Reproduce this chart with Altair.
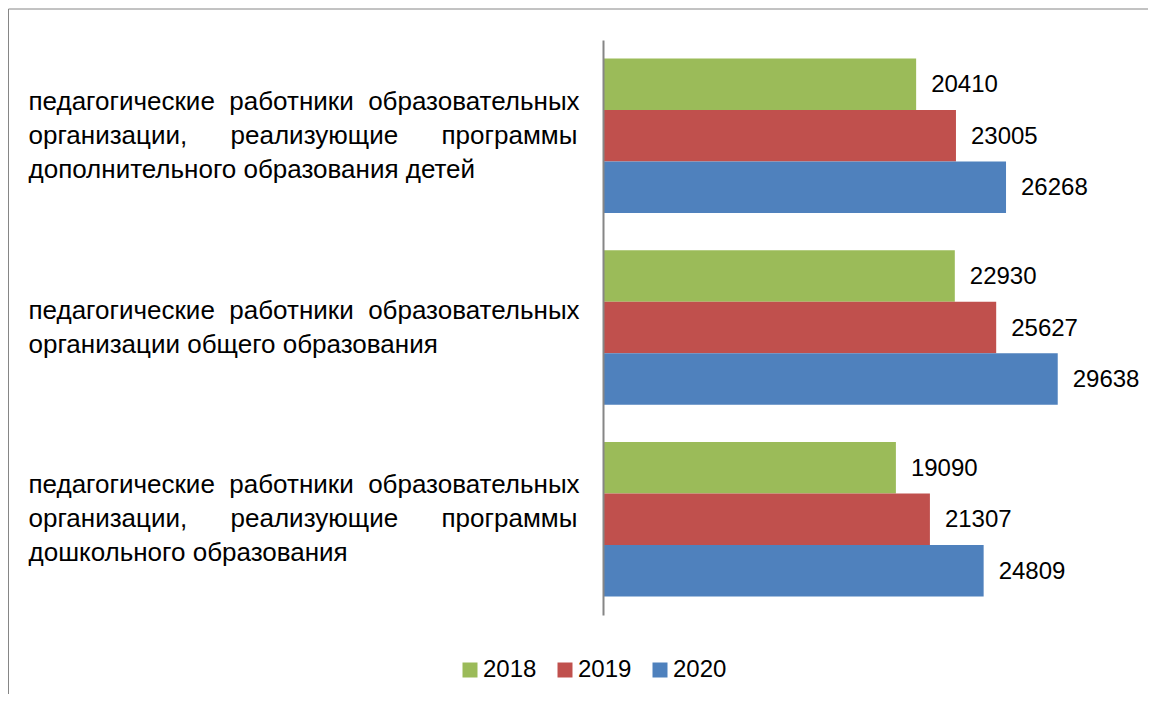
import json
import altair as alt
import pandas as pd

categories = [
    "педагогические работники образовательных организации, реализующие программы дополнительного образования детей",
    "педагогические работники образовательных организации общего образования",
    "педагогические работники образовательных организации, реализующие программы дошкольного образования",
]
NB = "\u00a0"
# wrapped, justified display lines of each category label
label_lines = [
    ["педагогические " + NB + "работники " + NB + "образовательных",
     "организации, " + NB * 5 + "реализующие " + NB * 5 + "программы",
     "дополнительного образования детей"],
    ["педагогические " + NB + "работники " + NB + "образовательных",
     "организации общего образования"],
    ["педагогические " + NB + "работники " + NB + "образовательных",
     "организации, " + NB * 5 + "реализующие " + NB * 5 + "программы",
     "дошкольного образования"],
]
years = ["2018", "2019", "2020"]
values_2018 = [20410, 22930, 19090]
values_2019 = [23005, 25627, 21307]
values_2020 = [26268, 29638, 24809]
colors = ["#9BBB59", "#C0504D", "#4F81BD"]

rows = []
for i, c in enumerate(categories):
    for y, vals in zip(years, [values_2018, values_2019, values_2020]):
        rows.append({"category": c, "year": y, "value": vals[i]})
df = pd.DataFrame(rows)

def js(v):
    return json.dumps(v, ensure_ascii=False)

label_expr = js(label_lines[-1])
for c, lines in reversed(list(zip(categories[:-1], label_lines[:-1]))):
    label_expr = f"datum.value == {js(c)} ? {js(lines)} : ({label_expr})"

LH = 34
two_line = [c for c, l in zip(categories, label_lines) if len(l) == 2]
offset_test = " || ".join(f"datum.value == {js(c)}" for c in two_line)

FONT = "Liberation Sans"

base = alt.Chart(df).encode(
    y=alt.Y(
        "category:N",
        sort=categories,
        scale=alt.Scale(paddingInner=0.194, paddingOuter=0.097),
        axis=alt.Axis(
            title=None,
            ticks=False,
            domainColor="#868686",
            domainWidth=2,
            zindex=1,
            labelAlign="left",
            labelBaseline="middle",
            labelPadding=575,
            labelLimit=0,
            labelFontSize=26,
            labelFont=FONT,
            labelColor="black",
            labelLineHeight=LH,
            labelExpr=label_expr,
            labelOffset={"condition": {"test": offset_test, "value": -LH / 2}, "value": -LH},
        ),
    ),
    yOffset=alt.YOffset("year:N", sort=years),
    x=alt.X("value:Q", scale=alt.Scale(domain=[0, 35000], nice=False, zero=True), axis=None),
)

bars = base.mark_bar().encode(
    color=alt.Color(
        "year:N",
        scale=alt.Scale(domain=years, range=colors),
        legend=alt.Legend(
            title=None,
            orient="none",
            direction="horizontal",
            legendX=-145,
            legendY=618,
            symbolType="square",
            symbolSize=225,
            symbolStrokeWidth=0,
            labelFontSize=24,
            labelFont=FONT,
            labelColor="black",
            labelOffset=1,
            columnPadding=16,
            padding=0,
        ),
    )
)

labels = base.mark_text(
    align="left", baseline="middle", dx=15, dy=1, fontSize=24, font=FONT, color="black"
).encode(text=alt.Text("value:Q", format="d"))

frame = alt.Chart(alt.Data(values=[{"k": 1}]))
top_border = frame.mark_rule(color="#868686", strokeWidth=1).encode(
    x=alt.value(-594.5), x2=alt.value(545), y=alt.value(-31)
)
left_border = frame.mark_rule(color="#868686", strokeWidth=1).encode(
    x=alt.value(-594.5), y=alt.value(-31), y2=alt.value(654)
)

chart = (
    alt.layer(top_border, left_border, bars, labels)
    .properties(
        width=537,
        height=575,
        autosize=alt.AutoSizeParams(type="none"),
        padding={"left": 595, "top": 32, "right": 8, "bottom": 79},
    )
    .configure_view(strokeWidth=0)
)

chart.save("out.html", embed_options={"renderer": "svg", "actions": False})
